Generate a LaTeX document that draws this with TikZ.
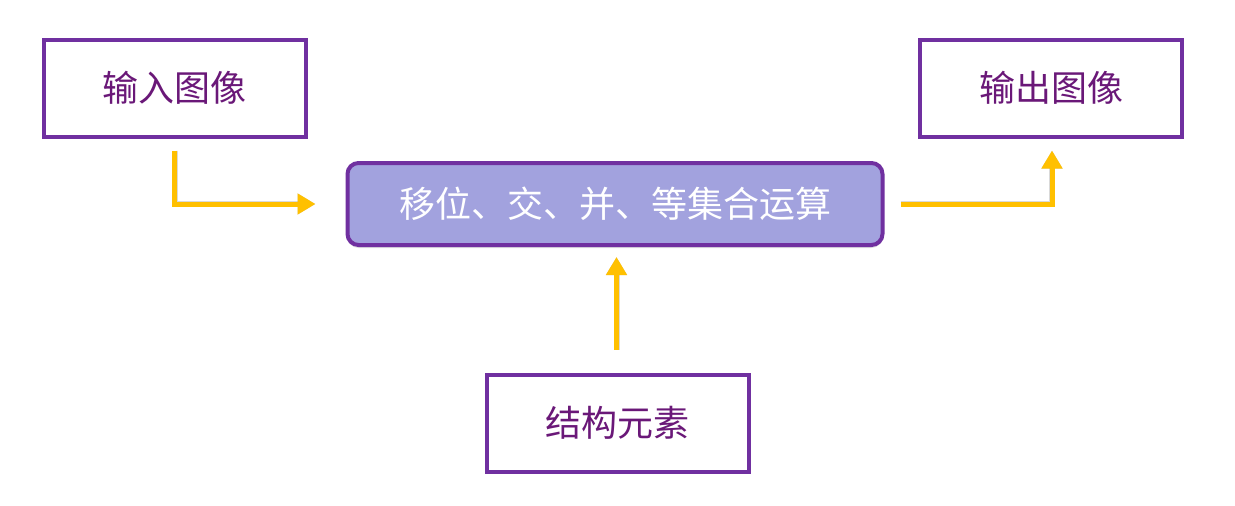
\documentclass[tikz,border=0pt]{standalone}
\usepackage{fontspec}
\newfontfamily\cjk{Noto Sans CJK SC}
\usetikzlibrary{calc,arrows.meta,shadows}
\definecolor{boxpurple}{HTML}{7030A0}
\definecolor{textpurple}{HTML}{6A1878}
\definecolor{midfill}{HTML}{A2A2DE}
\definecolor{gold}{HTML}{FFC000}
\tikzset{
  plainbox/.style={draw=boxpurple, line width=4pt, fill=white, minimum width=262pt, minimum height=97pt, inner sep=0pt, text=textpurple, font=\cjk\fontsize{36}{42}\selectfont},
  midbox/.style={draw=boxpurple, line width=4pt, fill=midfill, rounded corners=11pt, minimum width=535pt, minimum height=82pt, inner sep=0pt, text=white, font=\cjk\fontsize{36}{42}\selectfont, drop shadow={shadow xshift=0pt, shadow yshift=-3pt, opacity=0.25}},
  goldarrow/.style={draw=gold, line width=5pt, -{Triangle[length=18pt,width=20pt]}},
  arrowshadow/.style={draw=black, opacity=0.15, line width=6pt, -{Triangle[length=18pt,width=20pt]}, shift={(2pt,-3pt)}}
}
\begin{document}
\begin{tikzpicture}[x=1pt,y=-1pt]
\useasboundingbox (0,0) rectangle (1235,506);
\node[plainbox] (in) at (174.5,88) {输入图像};
\node[plainbox] (out) at (1051,88) {输出图像};
\node[midbox] (mid) at (615,204) {移位、交、并、等集合运算};
\node[plainbox] (se) at (617.5,423) {结构元素};
\coordinate (a1) at ($(in.south)+(0,12)$);
\coordinate (a1e) at ($(mid.west)+(-30,0)$);
\coordinate (a2) at ($(mid.east)+(16,0)$);
\coordinate (a2e) at ($(out.south)+(1,12)$);
\coordinate (a3) at ($(se.north)+(-1,-23)$);
\coordinate (a3e) at ($(mid.south)+(1,10)$);
\draw[arrowshadow] (a1) |- (a1e);
\draw[arrowshadow] (a2) -| (a2e);
\draw[arrowshadow] (a3) -- (a3 |- a3e);
\draw[goldarrow] (a1) |- (a1e);
\draw[goldarrow] (a2) -| (a2e);
\draw[goldarrow] (a3) -- (a3 |- a3e);
\end{tikzpicture}
\end{document}
